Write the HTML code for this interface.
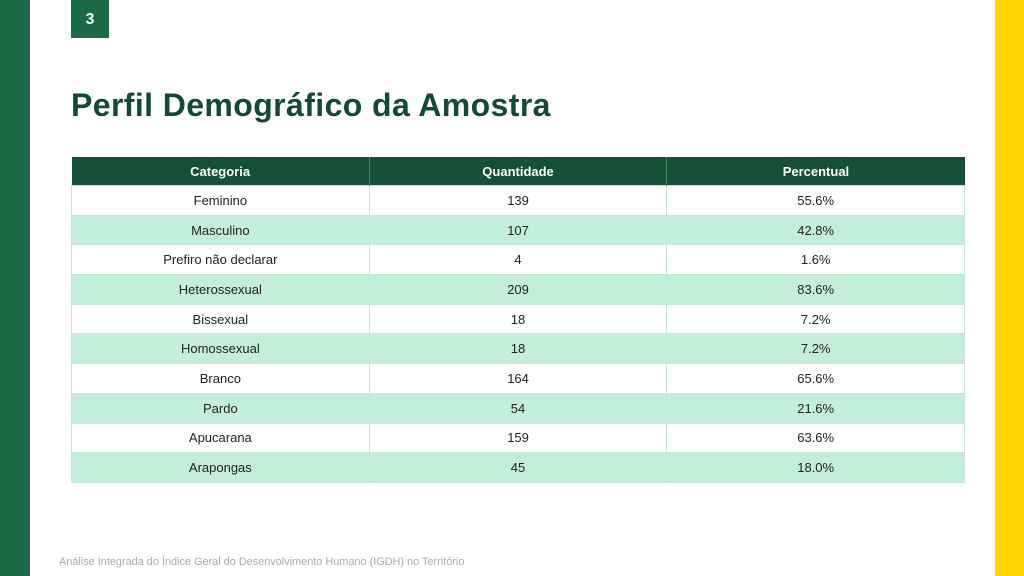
<!DOCTYPE html>
<html><head><meta charset="utf-8"><style>
body{margin:0;width:1024px;height:576px;background:#fff;position:relative;overflow:hidden;font-family:"Liberation Sans",sans-serif}
.lb{position:absolute;left:0;top:0;width:30px;height:576px;background:#1c6a48}
.rb{position:absolute;left:995px;top:0;width:29px;height:576px;background:#fdd600}
.badge{position:absolute;left:71px;top:0;width:38px;height:38px;background:#1c6a48;color:#fff;font-weight:bold;font-size:16px;text-align:center;line-height:40px}
h1{position:absolute;left:71px;top:87px;margin:0;font-size:32px;color:#134a33;font-weight:bold;letter-spacing:0.4px}
table{position:absolute;left:71px;top:157px;width:894px;border-collapse:collapse;font-size:13px;color:#222}
th{background:#154f37;color:#fff;height:28px;padding:0;font-size:13px;border-right:1px solid #3d8a66}
td{height:28.7px;text-align:center;border:1px solid #bfe9d6;padding:0}
tr:nth-child(odd) td{background:#c3eedb}
td,th{width:298px}
.foot{position:absolute;left:59px;top:556px;font-size:10.9px;color:#a8a8a8}
</style></head><body>
<div class="lb"></div><div class="rb"></div>
<div class="badge">3</div>
<h1>Perfil Demográfico da Amostra</h1>
<table>
<tr><th>Categoria</th><th>Quantidade</th><th style="border-right:none">Percentual</th></tr>
<tr><td>Feminino</td><td>139</td><td>55.6%</td></tr>
<tr><td>Masculino</td><td>107</td><td>42.8%</td></tr>
<tr><td>Prefiro não declarar</td><td>4</td><td>1.6%</td></tr>
<tr><td>Heterossexual</td><td>209</td><td>83.6%</td></tr>
<tr><td>Bissexual</td><td>18</td><td>7.2%</td></tr>
<tr><td>Homossexual</td><td>18</td><td>7.2%</td></tr>
<tr><td>Branco</td><td>164</td><td>65.6%</td></tr>
<tr><td>Pardo</td><td>54</td><td>21.6%</td></tr>
<tr><td>Apucarana</td><td>159</td><td>63.6%</td></tr>
<tr><td>Arapongas</td><td>45</td><td>18.0%</td></tr>
</table>
<div class="foot">Análise Integrada do Índice Geral do Desenvolvimento Humano (IGDH) no Território</div>
</body></html>
